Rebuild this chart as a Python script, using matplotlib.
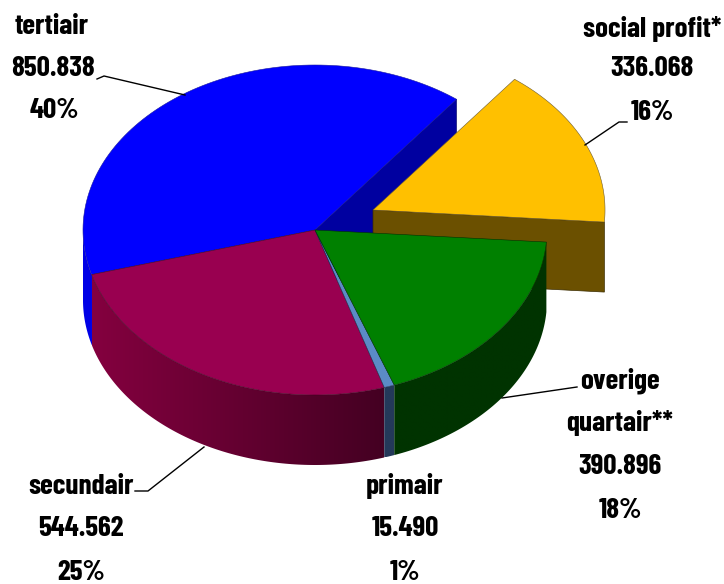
import numpy as np
import matplotlib
matplotlib.use("Agg")
import matplotlib.pyplot as plt
from matplotlib.patches import Polygon
from matplotlib.colors import to_rgb

# Data, in slice order (counter-clockwise from the top right)
categories = ["tertiair", "secundair", "primair", "overige\nquartair**", "social profit*"]
values = [850838, 544562, 15490, 390896, 336068]
value_labels = ["850.838", "544.562", "15.490", "390.896", "336.068"]
pct_labels = ["40%", "25%", "1%", "18%", "16%"]

top_colors = ["#0000FF", "#990050", "#5B8BC6", "#008000", "#FFC000"]
wall_left = ["#0000E6", "#84003F", "#24395A", "#003300", "#6B5000"]
wall_right = ["#0000E6", "#440022", "#24395A", "#003300", "#6B5000"]
edge_colors = ["#1818a0", "#400020", "#203050", "#003000", "#6a5a30"]

# Pie geometry in pixels
CX, CY = 315, 230
RX, RY = 232, 165
DEPTH = 70
START = 52.4
EXPLODE = (58, -20)

fracs = np.array(values) / sum(values)
edges = START + np.concatenate([[0], np.cumsum(fracs) * 360])


def rim(t, off=(0, 0)):
    r = np.radians(t)
    return np.column_stack([CX + off[0] + RX * np.cos(r), CY + off[1] - RY * np.sin(r)])


def draw_wall(ax, i, t0, t1, z):
    # outer wall, gradient image clipped to the wall shape
    pts = rim(np.linspace(t0, t1, 120))
    shape = np.vstack([pts, (pts + [0, DEPTH])[::-1]])
    poly = Polygon(shape, closed=True, fc="none", ec="none", zorder=z)
    ax.add_patch(poly)
    u = np.linspace(0, 1, 128)[None, :, None]
    grad = np.array(to_rgb(wall_left[i]))[None, None, :] * (1 - u) + np.array(to_rgb(wall_right[i]))[None, None, :] * u
    x0, x1 = shape[:, 0].min(), shape[:, 0].max()
    y0, y1 = shape[:, 1].min(), shape[:, 1].max()
    im = ax.imshow(grad, extent=(x0, x1, y1, y0), aspect="auto", zorder=z, interpolation="bilinear")
    im.set_clip_path(poly)


def draw_top(ax, i, off=(0, 0), z=4):
    ts = np.linspace(edges[i], edges[i + 1], 100)
    centre = [[CX + off[0], CY + off[1]]]
    pts = np.vstack([centre, rim(ts, off)])
    ax.add_patch(Polygon(pts, closed=True, fc=top_colors[i], ec=edge_colors[i], lw=0.4, zorder=z))


fig = plt.figure(figsize=(7.24, 5.84), dpi=100)
ax = fig.add_axes([0, 0, 1, 1])

# tertiair: left bit of wall and inner cut face
draw_wall(ax, 0, 180, 196, 1)
p = rim(np.array([edges[0]]))[0]
ax.add_patch(Polygon([[CX, CY], p, p + [0, DEPTH], [CX, CY + DEPTH]], closed=True,
                     fc="#0000A0", ec="#000060", lw=0.4, zorder=1))
draw_top(ax, 0, z=2)

# social profit slice pulled out, its cut face looks to the front
a = rim(np.array([edges[4]]), EXPLODE)[0]
c = np.array([CX + EXPLODE[0], CY + EXPLODE[1]])
ax.add_patch(Polygon([c, a, a + [0, DEPTH], c + [0, DEPTH]], closed=True,
                     fc=wall_left[4], ec="#3a2c00", lw=0.5, zorder=2.6))
draw_top(ax, 4, EXPLODE, z=2.7)

# front slices: walls then tops
for i in [1, 2, 3]:
    draw_wall(ax, i, edges[i], edges[i + 1], 3)
for i in [1, 2, 3]:
    draw_top(ax, i)

ax.set_xlim(0, 724)
ax.set_ylim(584, 0)
ax.axis("off")

# Labels
txt = dict(family=["Barlow Condensed", "Carlito", "DejaVu Sans"],
           fontweight="bold", fontsize=21,
           ha="center", va="center", color="black", zorder=6)
ax.text(52, 26, categories[0], **txt)
ax.text(53, 68, value_labels[0], **txt)
ax.text(54, 110, pct_labels[0], **txt)

ax.text(81, 486, categories[1], **txt)
ax.text(81, 529, value_labels[1], **txt)
ax.text(81, 572, pct_labels[1], **txt)

ax.text(405, 486, categories[2], **txt)
ax.text(405, 529, value_labels[2], **txt)
ax.text(405, 572, pct_labels[2], **txt)

over, quart = categories[3].split("\n")
ax.text(620, 381, over, **txt)
ax.text(620, 423, quart, **txt)
ax.text(620, 467, value_labels[3], **txt)
ax.text(620, 511, pct_labels[3], **txt)

ax.text(652, 29, categories[4], **txt)
ax.text(652, 69, value_labels[4], **txt)
ax.text(652, 113, pct_labels[4], **txt)

# Leader lines
for xs, ys in [([97, 104, 185], [79, 76, 95]),
               ([585, 619, 627], [145, 122, 122]),
               ([502, 577], [398, 387]),
               ([204, 148, 135], [447, 491, 491])]:
    ax.plot(xs, ys, color="black", lw=1, zorder=5)

fig.savefig("out.png", dpi=100)
